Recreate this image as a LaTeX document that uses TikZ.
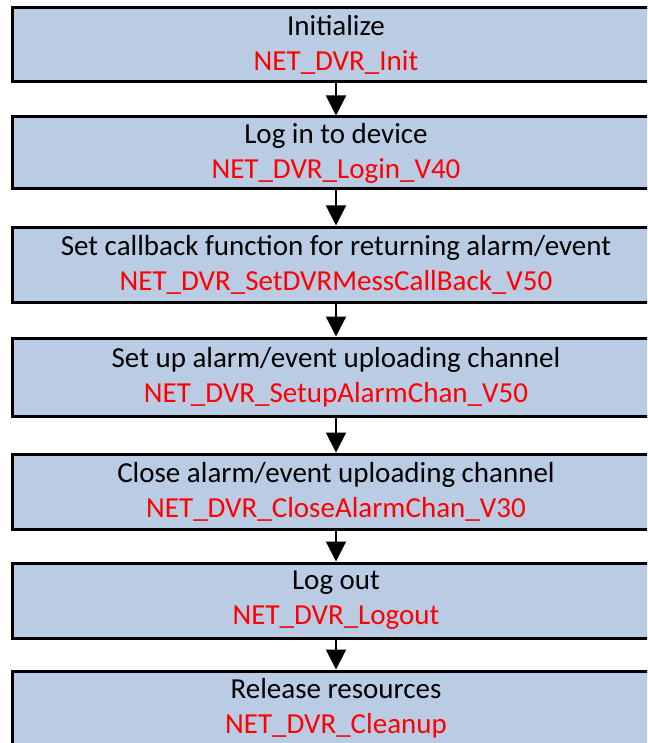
\documentclass[tikz,border=0pt]{standalone}
\usepackage{fontspec}
\setmainfont{Carlito}
\usetikzlibrary{arrows.meta}
\definecolor{boxfill}{RGB}{185,204,228}
\definecolor{fnred}{RGB}{255,0,0}
\tikzset{
  stepbox/.style={draw=black, line width=3pt, fill=boxfill, minimum width=648pt, inner sep=0pt, align=center, font=\fontsize{29}{35}\selectfont},
  flowarrow/.style={line width=2pt, -{Triangle[width=20pt,length=20pt]}, shorten >=0pt}
}
\begin{document}
\begin{tikzpicture}[x=1pt,y=-1pt]
\useasboundingbox (0,0) rectangle (647,743);
\clip (0,0) rectangle (647,743);
\node[stepbox, minimum height=74pt] (b1) at (336,45) {Initialize\\\textcolor{fnred}{NET\_DVR\_Init}};
\node[stepbox, minimum height=72pt] (b2) at (336,153) {Log in to device\\\textcolor{fnred}{NET\_DVR\_Login\_V40}};
\node[stepbox, minimum height=75pt] (b3) at (336,264.5) {Set callback function for returning alarm/event\\\textcolor{fnred}{NET\_DVR\_SetDVRMessCallBack\_V50}};
\node[stepbox, minimum height=78pt] (b4) at (336,377) {Set up alarm/event uploading channel\\\textcolor{fnred}{NET\_DVR\_SetupAlarmChan\_V50}};
\node[stepbox, minimum height=75pt] (b5) at (336,491.5) {Close alarm/event uploading channel\\\textcolor{fnred}{NET\_DVR\_CloseAlarmChan\_V30}};
\node[stepbox, minimum height=75pt] (b6) at (336,600.5) {Log out\\\textcolor{fnred}{NET\_DVR\_Logout}};
\node[stepbox, minimum height=75pt] (b7) at (336,708.5) {Release resources\\\textcolor{fnred}{NET\_DVR\_Cleanup}};
\draw[flowarrow] (b1.south) -- (b2.north);
\draw[flowarrow] (b2.south) -- (b3.north);
\draw[flowarrow] (b3.south) -- (b4.north);
\draw[flowarrow] (b4.south) -- (b5.north);
\draw[flowarrow] (b5.south) -- (b6.north);
\draw[flowarrow] (b6.south) -- (b7.north);
\end{tikzpicture}
\end{document}
